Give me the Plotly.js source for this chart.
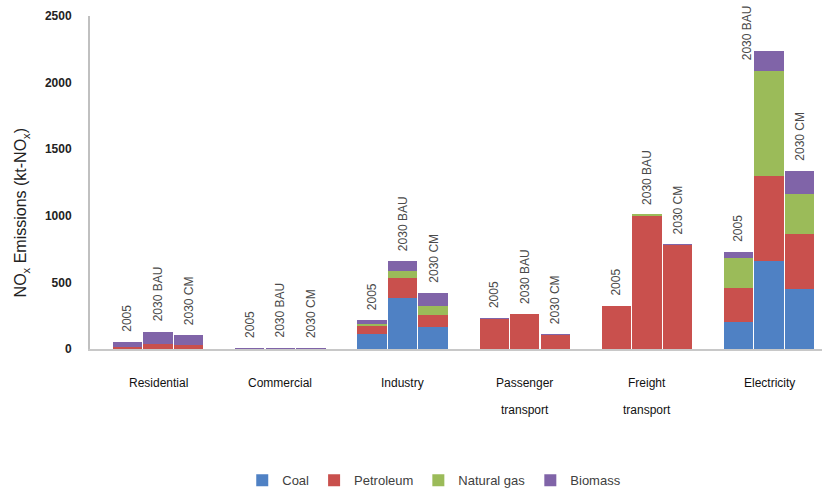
<!DOCTYPE html>
<html>
<head>
<meta charset="utf-8">
<script src="https://cdn.plot.ly/plotly-3.0.1.min.js"></script>
<style>html,body{margin:0;padding:0;background:#fff;}#chart{width:824px;height:490px;}</style>
</head>
<body>
<div id="chart"></div>
<script>
// ---- data ----
const categories = ['Residential', 'Commercial', 'Industry', 'Passenger\ntransport', 'Freight\ntransport', 'Electricity'];
const scenarios = ['2005', '2030 BAU', '2030 CM'];
// values per bar, in order: category x scenario
const coal       = [0, 0, 0,    0, 0, 0,    110, 385, 165,   0, 0, 0,       0, 0, 0,        200, 660, 450];
const petroleum  = [15, 35, 30, 0, 0, 0,    60, 150, 90,     225, 260, 105, 320, 1000, 780, 260, 640, 415];
const naturalGas = [0, 0, 0,    0, 0, 0,    20, 50, 65,      0, 0, 0,       0, 10, 0,       225, 790, 300];
const biomass    = [40, 95, 75, 10, 10, 10, 30, 75, 100,     5, 5, 5,       5, 0, 5,        45, 150, 175];
const seriesNames = ['Coal', 'Petroleum', 'Natural gas', 'Biomass'];
const yTicks = [0, 500, 1000, 1500, 2000, 2500];

// ---- styling ----
const colors = ['#4F81C4', '#C9504D', '#9BBB59', '#8064A8'];
const FONT = 'Liberation Sans, Arial, sans-serif';
const groupStep = 4;

const xs = [], totals = [], barLabels = [];
categories.forEach((c, g) => scenarios.forEach((s, b) => {
  xs.push(g * groupStep + b - 1);
  barLabels.push(s);
}));
const seriesVals = [coal, petroleum, naturalGas, biomass];
for (let i = 0; i < xs.length; i++) totals.push(seriesVals.reduce((a, v) => a + v[i], 0));

const traces = seriesVals.map((vals, k) => ({
  type: 'bar', x: xs, y: vals, name: seriesNames[k],
  width: 0.96,
  marker: {color: colors[k], line: {width: 0}},
  hoverinfo: 'name+y'
}));

const annotations = [];
// scenario labels above bars (the tallest one is nudged left so it stays inside the page)
const labelShift = {16: [-22, -20]};
xs.forEach((x, i) => {
  const sh = labelShift[i] || [0, 0];
  annotations.push({
    x: x, y: totals[i], xref: 'x', yref: 'y', text: barLabels[i],
    showarrow: false, textangle: -90, xanchor: 'center', yanchor: 'bottom',
    yshift: 8 + sh[1], xshift: sh[0],
    font: {family: FONT, size: 12, color: '#4a4a4a'}
  });
});
// category labels
categories.forEach((c, g) => {
  c.split('\n').forEach((line, j) => {
    annotations.push({
      x: g * groupStep, y: -0.102 - j * 0.081, xref: 'x', yref: 'paper', text: line,
      showarrow: false, xanchor: 'center', yanchor: 'middle',
      font: {family: FONT, size: 12, color: '#111'}
    });
  });
});
// y axis title
annotations.push({
  x: -0.093, y: 0.41, xref: 'paper', yref: 'paper', textangle: -90,
  text: 'NO<sub>x</sub> Emissions (kt-NO<sub>x</sub>)', showarrow: false,
  xanchor: 'center', yanchor: 'middle',
  font: {family: FONT, size: 16, color: '#222'}
});

const layout = {
  width: 824, height: 490,
  margin: {l: 90, r: 2, t: 16, b: 141, autoexpand: false},
  paper_bgcolor: '#fff', plot_bgcolor: '#fff',
  barmode: 'stack', bargap: 0,
  showlegend: true,
  xaxis: {
    range: [-2.23, 21.73], showticklabels: false, showgrid: false, zeroline: false,
    showline: true, linecolor: '#c8c8c8', linewidth: 2, ticks: '', fixedrange: true
  },
  yaxis: {
    range: [0, 2500], tickvals: yTicks, ticktext: yTicks.map(String),
    showgrid: false, zeroline: false, showline: true, linecolor: '#c0c0c0', linewidth: 2,
    ticks: '', ticklabelstandoff: 14,
    tickfont: {family: FONT, size: 12, color: '#222', weight: 'bold'}
  },
  legend: {
    orientation: 'h', xref: 'container', yref: 'container',
    x: 0.527, xanchor: 'center', y: 0.02, yanchor: 'middle',
    font: {family: FONT, size: 13, color: '#404040'}, traceorder: 'normal'
  },
  annotations: annotations
};

Plotly.newPlot('chart', traces, layout, {displayModeBar: false, staticPlot: true});
</script>
</body>
</html>
